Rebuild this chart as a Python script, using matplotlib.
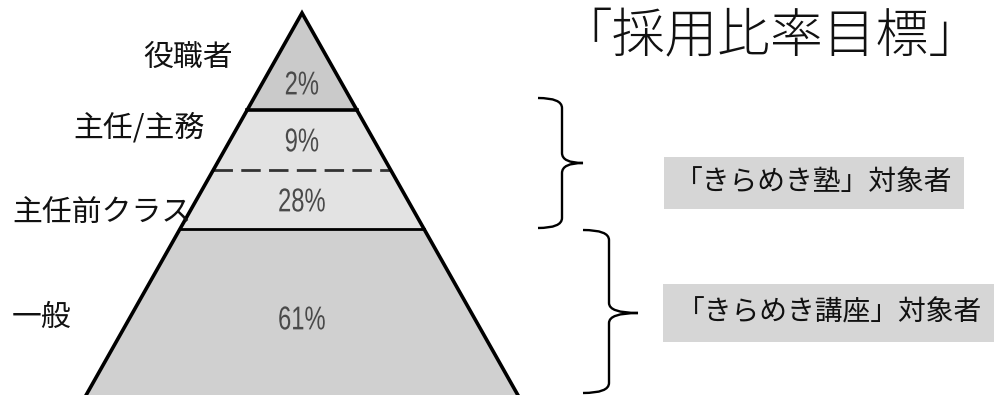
import matplotlib
matplotlib.use("Agg")
import matplotlib.pyplot as plt
from matplotlib.path import Path
from matplotlib.patches import PathPatch, Polygon
from matplotlib.textpath import TextPath
from matplotlib.font_manager import FontProperties
from matplotlib.transforms import Affine2D

plt.rcParams["font.family"] = ["Noto Sans CJK JP", "DejaVu Sans"]

# tiers, top to bottom
levels = ["役職者", "主任/主務", "主任前クラス", "一般"]
shares = [2, 9, 28, 61]
title = "「採用比率目標」"
groups = ["「きらめき塾」対象者", "「きらめき講座」対象者"]

# layout in pixels (y grows downwards)
W, H = 994, 395
APEX_X, APEX_Y = 302, 13
SLOPE = 0.565                      # half-width growth per pixel of depth
tier_bottom = [110, 170, 229, 400]
tier_fill = ["#cacaca", "#e3e3e3", "#e3e3e3", "#d0d0d0"]
share_y = [83, 140, 200, 318]
label_xy = [(143, 57), (73, 128), (12, 212), (12, 317)]


def half(y):
    return SLOPE * (y - APEX_Y)


fig = plt.figure(figsize=(W / 100, H / 100), dpi=100)
ax = fig.add_axes([0, 0, 1, 1])
ax.set_xlim(0, W)
ax.set_ylim(H, 0)
ax.axis("off")

# pyramid bands
top = APEX_Y
for yb, fc in zip(tier_bottom, tier_fill):
    pts = [(APEX_X - half(top), top), (APEX_X + half(top), top),
           (APEX_X + half(yb), yb), (APEX_X - half(yb), yb)]
    ax.add_patch(Polygon(pts, closed=True, facecolor=fc, edgecolor="none"))
    top = yb

# separators: solid under the top tier, dashed between the two middle tiers
for i, yb in enumerate(tier_bottom[:-1]):
    xs = [APEX_X - half(yb), APEX_X + half(yb)]
    if i == 1:
        ax.plot(xs, [yb, yb], color="#333333", lw=2, dashes=(7, 3),
                solid_capstyle="butt")
    else:
        ax.plot(xs, [yb, yb], color="black", lw=2.6 if i == 0 else 2)

# outer sides
yb = tier_bottom[-1]
ax.plot([APEX_X - half(yb), APEX_X, APEX_X + half(yb)], [yb, APEX_Y, yb],
        color="black", lw=2.6, solid_joinstyle="miter")

# share labels inside the tiers, narrow digits (squeezed glyph outlines)
num_font = FontProperties(family=["Liberation Sans", "DejaVu Sans"])
for s, y in zip(shares, share_y):
    tp = TextPath((0, 0), f"{s}%", size=33, prop=num_font)
    bb = tp.get_extents()
    tr = (Affine2D().translate(-(bb.x0 + bb.x1) / 2, -(bb.y0 + bb.y1) / 2)
          .scale(0.72, -1).translate(APEX_X, y))
    ax.add_patch(PathPatch(tr.transform_path(tp), facecolor="#4a4a4a",
                           edgecolor="none"))

# tier names on the left
for name, (x, y) in zip(levels, label_xy):
    ax.text(x, y, name, ha="left", va="center", fontsize=21.5,
            color="#111111")

ax.text(770, 38, title, ha="center", va="center", fontsize=38,
        fontweight="light", color="#111111")


def brace(x0, xm, xt, y0, y1, y2, r=10):
    verts = [(x0, y0), (xm, y0), (xm, y0 + r),
             (xm, y1 - r), (xm, y1), (xt, y1),
             (xm, y1), (xm, y1 + r),
             (xm, y2 - r), (xm, y2), (x0, y2)]
    codes = [Path.MOVETO, Path.CURVE3, Path.CURVE3,
             Path.LINETO, Path.CURVE3, Path.CURVE3,
             Path.CURVE3, Path.CURVE3,
             Path.LINETO, Path.CURVE3, Path.CURVE3]
    ax.add_patch(PathPatch(Path(verts, codes), facecolor="none",
                           edgecolor="black", lw=1.7))


brace(538, 562, 583, 98, 163, 228)
brace(583, 609, 638, 230, 313, 393)

ax.text(814, 183, groups[0], ha="center", va="center", fontsize=20,
        color="#111111",
        bbox=dict(boxstyle="square,pad=0.4", facecolor="#d6d6d6",
                  edgecolor="none"))
ax.text(830, 313, groups[1], ha="center", va="center", fontsize=20,
        color="#111111",
        bbox=dict(boxstyle="square,pad=0.5", facecolor="#d6d6d6",
                  edgecolor="none"))

fig.savefig("out.png", dpi=100)
